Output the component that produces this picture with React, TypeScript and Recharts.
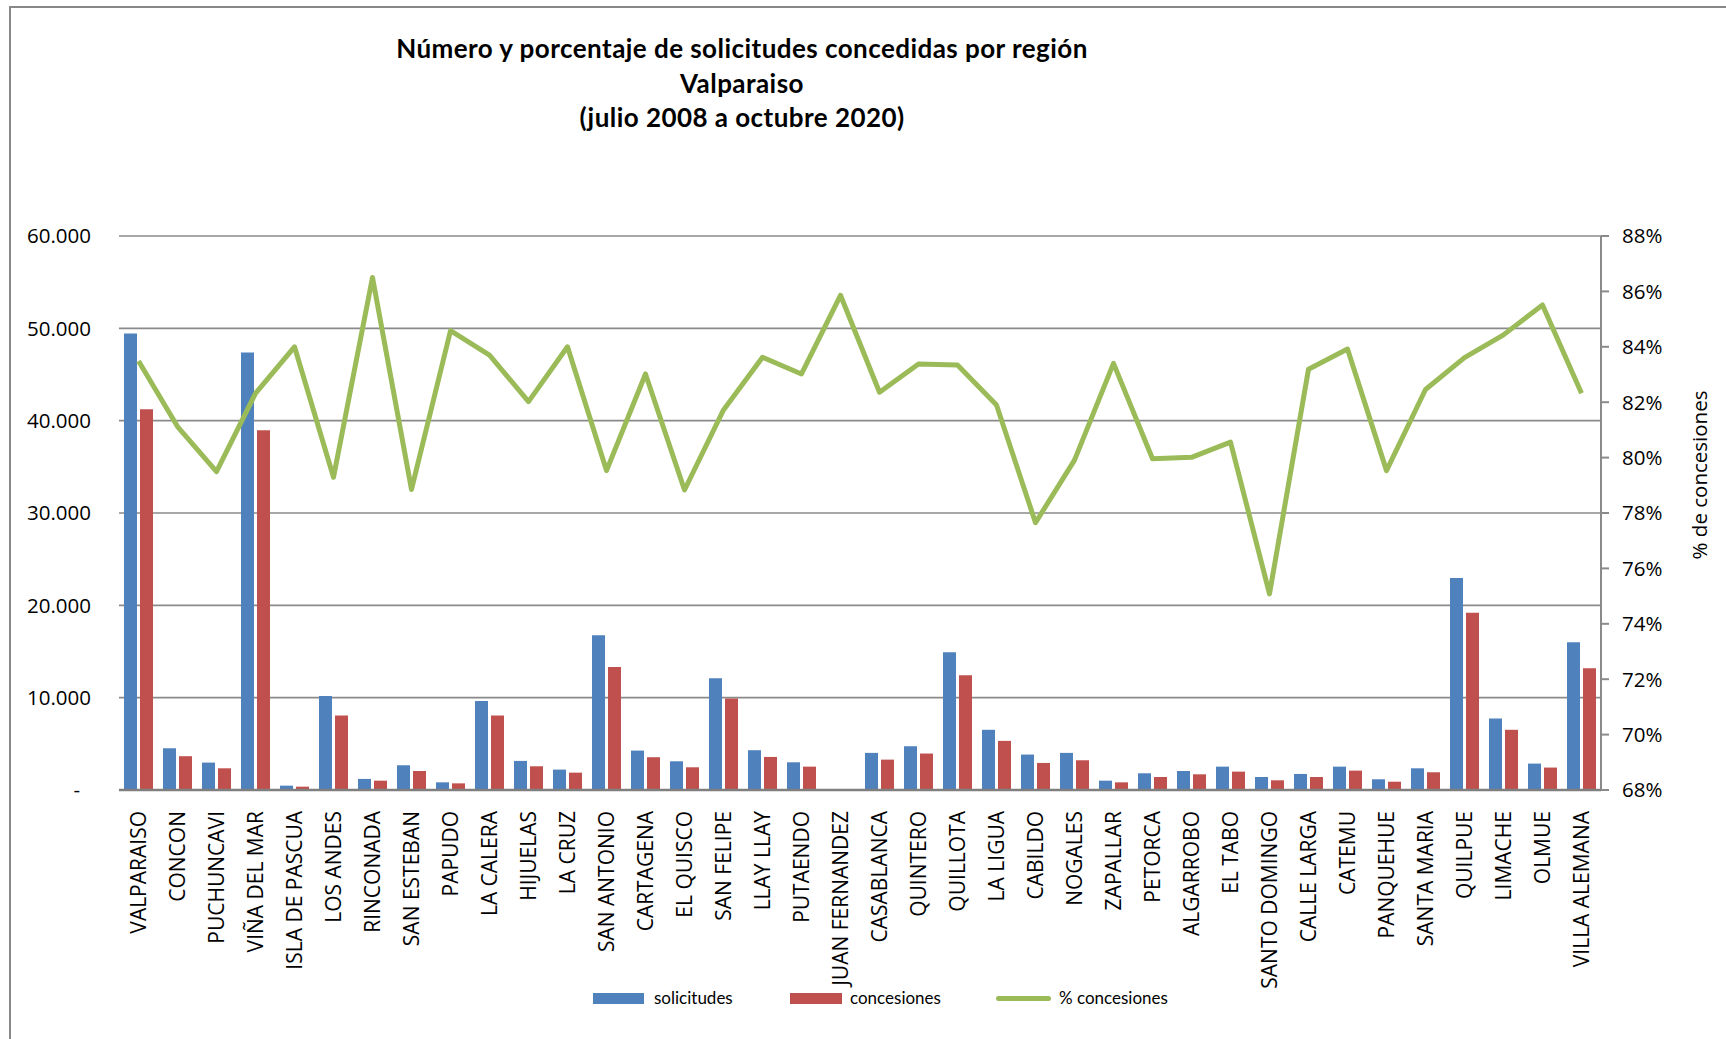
import React from 'react';
import { ComposedChart, Bar, Line, XAxis, YAxis, CartesianGrid } from 'recharts';

const categories = ['VALPARAISO','CONCON','PUCHUNCAVI','VIÑA DEL MAR','ISLA DE PASCUA','LOS ANDES','RINCONADA','SAN ESTEBAN','PAPUDO','LA CALERA','HIJUELAS','LA CRUZ','SAN ANTONIO','CARTAGENA','EL QUISCO','SAN FELIPE','LLAY LLAY','PUTAENDO','JUAN FERNANDEZ','CASABLANCA','QUINTERO','QUILLOTA','LA LIGUA','CABILDO','NOGALES','ZAPALLAR','PETORCA','ALGARROBO','EL TABO','SANTO DOMINGO','CALLE LARGA','CATEMU','PANQUEHUE','SANTA MARIA','QUILPUE','LIMACHE','OLMUE','VILLA ALEMANA'];

const solicitudes = [49440, 4520, 2970, 47390, 470, 10170, 1200, 2680, 830, 9630, 3150, 2210, 16760, 4270, 3110, 12090, 4310, 3000, 60, 4020, 4740, 14910, 6520, 3840, 4020, 1010, 1810, 2060, 2530, 1410, 1740, 2530, 1160, 2350, 22950, 7750, 2860, 16000];

const concesiones = [41240, 3660, 2350, 38970, 360, 8070, 1010, 2060, 720, 8070, 2570, 1880, 13320, 3550, 2460, 9920, 3580, 2530, 50, 3290, 3950, 12420, 5320, 2930, 3220, 830, 1410, 1700, 1990, 1050, 1410, 2100, 900, 1920, 19190, 6520, 2430, 13180];

const pctConcesiones = [83.49, 81.12, 79.49, 82.32, 84.0, 79.29, 86.5, 78.85, 84.58, 83.7, 82.02, 84.0, 79.53, 83.02, 78.83, 81.72, 83.62, 83.02, 85.86, 82.36, 83.38, 83.34, 81.9, 77.65, 79.91, 83.4, 79.96, 80.01, 80.56, 75.08, 83.19, 83.92, 79.53, 82.46, 83.61, 84.43, 85.51, 82.32];

const leftTicks = [0, 10000, 20000, 30000, 40000, 50000, 60000];
const rightTicks = [68, 70, 72, 74, 76, 78, 80, 82, 84, 86, 88];

const titleLines = ['Número y porcentaje de solicitudes concedidas por región', 'Valparaiso', '(julio 2008 a octubre 2020)'];
const seriesNames = ['solicitudes', 'concesiones', '% concesiones'];
const rightAxisTitle = '% de concesiones';

const BLUE = '#4F81BD';
const RED = '#C0504D';
const GREEN = '#9BBB59';
const GRID = '#8A8A8A';
const AXIS_FONT = "'Open Sans', sans-serif";

const data = categories.map((name, i) => ({
  name,
  solicitudes: solicitudes[i],
  concesiones: concesiones[i],
  pct: pctConcesiones[i],
}));

const fmtThousands = (v: number) => String(Math.round(v)).replace(/\B(?=(\d{3})+(?!\d))/g, '.');

const LeftTick = (props: any) => {
  const { x, y, payload } = props;
  const v = payload.value;
  if (v === 0) {
    return (
      <text x={x - 11} y={y} dy="0.36em" textAnchor="end" fontFamily={AXIS_FONT} fontSize={20.5} fill="#000">-</text>
    );
  }
  return (
    <text x={x} y={y} dy="0.36em" textAnchor="end" fontFamily={AXIS_FONT} fontSize={20.5} fill="#000">{fmtThousands(v)}</text>
  );
};

const RightTick = (props: any) => {
  const { x, y, payload } = props;
  return (
    <text x={x} y={y} dy="0.36em" textAnchor="start" fontFamily={AXIS_FONT} fontSize={20.5} fill="#000">{`${payload.value}%`}</text>
  );
};

const XTick = (props: any) => {
  const { x, y, payload } = props;
  return (
    <text transform={`translate(${x},${y}) rotate(-90)`} dy="0.36em" textAnchor="end" fontFamily={AXIS_FONT} fontSize={21} fill="#000">{payload.value}</text>
  );
};

const RightLabel = (props: any) => {
  const vb = props.viewBox || {};
  const cx = vb.x + 99;
  const cy = vb.y + vb.height / 2 - 38;
  return (
    <text transform={`translate(${cx},${cy}) rotate(-90)`} textAnchor="middle" dy="0.36em" fontFamily={AXIS_FONT} fontSize={20.5} fill="#000">{rightAxisTitle}</text>
  );
};

export default function App() {
  return (
    <div style={{ position: 'absolute', left: 0, top: 0, width: 1726, height: 1039, overflow: 'hidden', background: '#fff' }}>
      <div style={{ position: 'absolute', left: 9, top: 6, width: 1800, height: 1100, border: '2px solid #888', boxSizing: 'border-box' }} />
      <div style={{ position: 'absolute', left: 242, top: 31, width: 1000, textAlign: 'center', fontFamily: "Lato, sans-serif", fontWeight: 700, fontSize: 26, letterSpacing: '0.45px', lineHeight: '34.7px', color: '#000' }}>
        {titleLines.map((t) => (<div key={t}>{t}</div>))}
      </div>
      <div style={{ position: 'absolute', left: 0, top: 0 }}>
        <ComposedChart width={1726} height={1039} data={data} margin={{ top: 236, right: 0, bottom: 0, left: 0 }} barSize={13} barGap={3}>
          <CartesianGrid yAxisId="left" vertical={false} stroke={GRID} strokeWidth={1.6} ticks={leftTicks as any} />
          <XAxis dataKey="name" interval={0} height={249} tickSize={0} tickMargin={21} tickLine={false} axisLine={{ stroke: '#7F7F7F', strokeWidth: 2.5 }} tick={<XTick />} />
          <YAxis yAxisId="left" orientation="left" width={119} domain={[0, 60000]} ticks={leftTicks} tickSize={0} tickMargin={28} axisLine={false} tickLine={false} tick={<LeftTick />} />
          <YAxis yAxisId="right" orientation="right" width={125} domain={[68, 88]} ticks={rightTicks} tickSize={8} tickMargin={13} axisLine={{ stroke: GRID, strokeWidth: 2 }} tickLine={{ stroke: GRID, strokeWidth: 2 }} tick={<RightTick />} label={<RightLabel />} />
          <Bar yAxisId="left" dataKey="solicitudes" fill={BLUE} isAnimationActive={false} />
          <Bar yAxisId="left" dataKey="concesiones" fill={RED} isAnimationActive={false} />
          <Line yAxisId="right" dataKey="pct" type="linear" stroke={GREEN} strokeWidth={5} dot={false} activeDot={false} strokeLinejoin="round" isAnimationActive={false} />
        </ComposedChart>
      </div>
      <div style={{ position: 'absolute', left: 593, top: 993, width: 51, height: 11, background: BLUE }} />
      <div style={{ position: 'absolute', left: 654, top: 987, fontFamily: 'Lato, sans-serif', fontSize: 17, lineHeight: '22px', color: '#000', whiteSpace: 'nowrap' }}>{seriesNames[0]}</div>
      <div style={{ position: 'absolute', left: 790, top: 993, width: 52, height: 11, background: RED }} />
      <div style={{ position: 'absolute', left: 850, top: 987, fontFamily: 'Lato, sans-serif', fontSize: 17, lineHeight: '22px', color: '#000', whiteSpace: 'nowrap' }}>{seriesNames[1]}</div>
      <div style={{ position: 'absolute', left: 996, top: 996, width: 55, height: 5, borderRadius: 3, background: GREEN }} />
      <div style={{ position: 'absolute', left: 1059, top: 987, fontFamily: 'Lato, sans-serif', fontSize: 17, lineHeight: '22px', color: '#000', whiteSpace: 'nowrap' }}>{seriesNames[2]}</div>
    </div>
  );
}
